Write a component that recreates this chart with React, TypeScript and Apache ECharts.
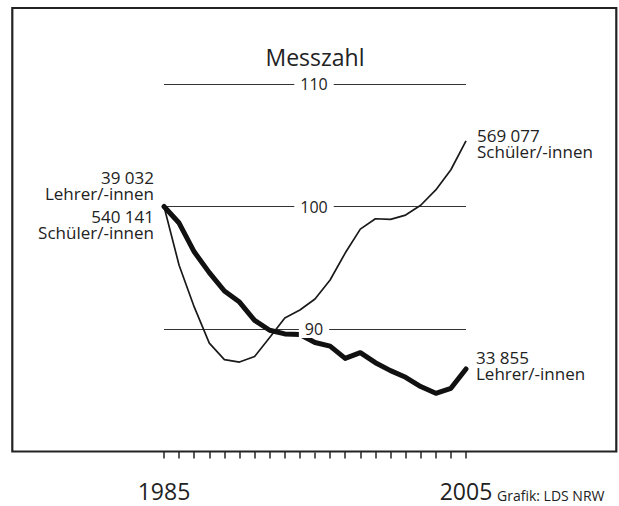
import React, { useEffect, useRef } from "react";
import * as echarts from "echarts";

const years = [
  "1985", "1986", "1987", "1988", "1989", "1990", "1991", "1992", "1993", "1994", "1995",
  "1996", "1997", "1998", "1999", "2000", "2001", "2002", "2003", "2004", "2005",
];
// Messzahl (1985 = 100)
const schueler = [
  100, 95.2, 91.8, 88.85, 87.5, 87.3, 87.75, 89.3, 90.9, 91.55, 92.45,
  94.0, 96.2, 98.15, 99.0, 98.95, 99.3, 100.1, 101.35, 103.0, 105.36,
];
const lehrer = [
  100, 98.65, 96.3, 94.6, 93.1, 92.2, 90.7, 89.9, 89.6, 89.55, 88.9,
  88.6, 87.6, 88.07, 87.25, 86.6, 86.06, 85.3, 84.75, 85.16, 86.74,
];
const yTicks = [90, 100, 110];
const shownYears = ["1985", "2005"];

const FONT = "'Open Sans', 'Noto Sans', sans-serif";
const TXT = "#222";

export default function App() {
  const ref = useRef<HTMLDivElement>(null);
  useEffect(() => {
    if (!ref.current) return;
    const chart = echarts.init(ref.current, null, { renderer: "svg" });
    const lbl = (text: string, x: number, y: number, align: string) => ({
      type: "text",
      x,
      y,
      style: {
        text,
        fontSize: 17,
        lineHeight: 16,
        fontFamily: FONT,
        fill: TXT,
        align,
        verticalAlign: "middle",
      },
    });
    chart.setOption({
      animation: false,
      backgroundColor: "#fff",
      textStyle: { fontFamily: FONT },
      grid: { left: 164, right: 153, top: 84, bottom: 54.5 },
      xAxis: {
        type: "category",
        data: years,
        boundaryGap: false,
        axisLine: { show: false },
        axisTick: {
          show: true,
          interval: 0,
          length: 7,
          lineStyle: { color: "#333", width: 1.6 },
        },
        axisLabel: {
          interval: 0,
          margin: 28,
          fontSize: 23,
          color: TXT,
          fontFamily: FONT,
          formatter: (v: string) => (shownYears.includes(v) ? v : ""),
        },
        splitLine: { show: false },
      },
      yAxis: [
        {
          type: "value",
          min: 80,
          max: 110,
          interval: 10,
          axisLine: { show: false },
          axisTick: { show: false },
          axisLabel: { show: false },
          splitLine: { show: true, lineStyle: { color: "#333", width: 1 } },
        },
        {
          type: "value",
          position: "left",
          min: 80,
          max: 110,
          interval: 10,
          z: 10,
          axisLine: { show: false },
          axisTick: { show: false },
          splitLine: { show: false },
          axisLabel: {
            show: true,
            margin: -150,
            align: "center",
            verticalAlign: "middle",
            fontSize: 16,
            color: TXT,
            fontFamily: FONT,
            backgroundColor: "#fff",
            padding: [1, 6, 1, 6],
            formatter: (v: number) => (yTicks.includes(v) ? String(v) : ""),
          },
        },
      ],
      series: [
        {
          name: "Schüler/-innen",
          type: "line",
          data: schueler,
          symbol: "none",
          lineStyle: { color: "#1a1a1a", width: 1.7, join: "round" },
          z: 3,
        },
        {
          name: "Lehrer/-innen",
          type: "line",
          data: lehrer,
          symbol: "none",
          lineStyle: { color: "#111", width: 5, join: "round", cap: "round" },
          z: 4,
        },
      ],
      graphic: [
        {
          type: "rect",
          shape: { x: 12.3, y: 8, width: 604, height: 443.5 },
          style: { fill: "none", stroke: "#222", lineWidth: 2.2 },
          z: 20,
        },
        {
          type: "text",
          x: 315,
          y: 57,
          style: {
            text: "Messzahl",
            fontSize: 23,
            fontFamily: FONT,
            fill: TXT,
            align: "center",
            verticalAlign: "middle",
          },
        },
        lbl("39 032\nLehrer/-innen", 154, 185.5, "right"),
        lbl("540 141\nSchüler/-innen", 154, 224.5, "right"),
        lbl("569 077\nSchüler/-innen", 477, 143.3, "left"),
        lbl("33 855\nLehrer/-innen", 476, 365, "left"),
        {
          type: "text",
          x: 497,
          y: 488,
          style: {
            text: "Grafik: LDS NRW",
            fontSize: 14,
            fontFamily: FONT,
            fill: TXT,
            align: "left",
            verticalAlign: "top",
          },
        },
      ],
    });
    return () => chart.dispose();
  }, []);
  return (
    <div
      ref={ref}
      style={{ position: "fixed", left: 0, top: 0, width: 619, height: 506 }}
    />
  );
}
